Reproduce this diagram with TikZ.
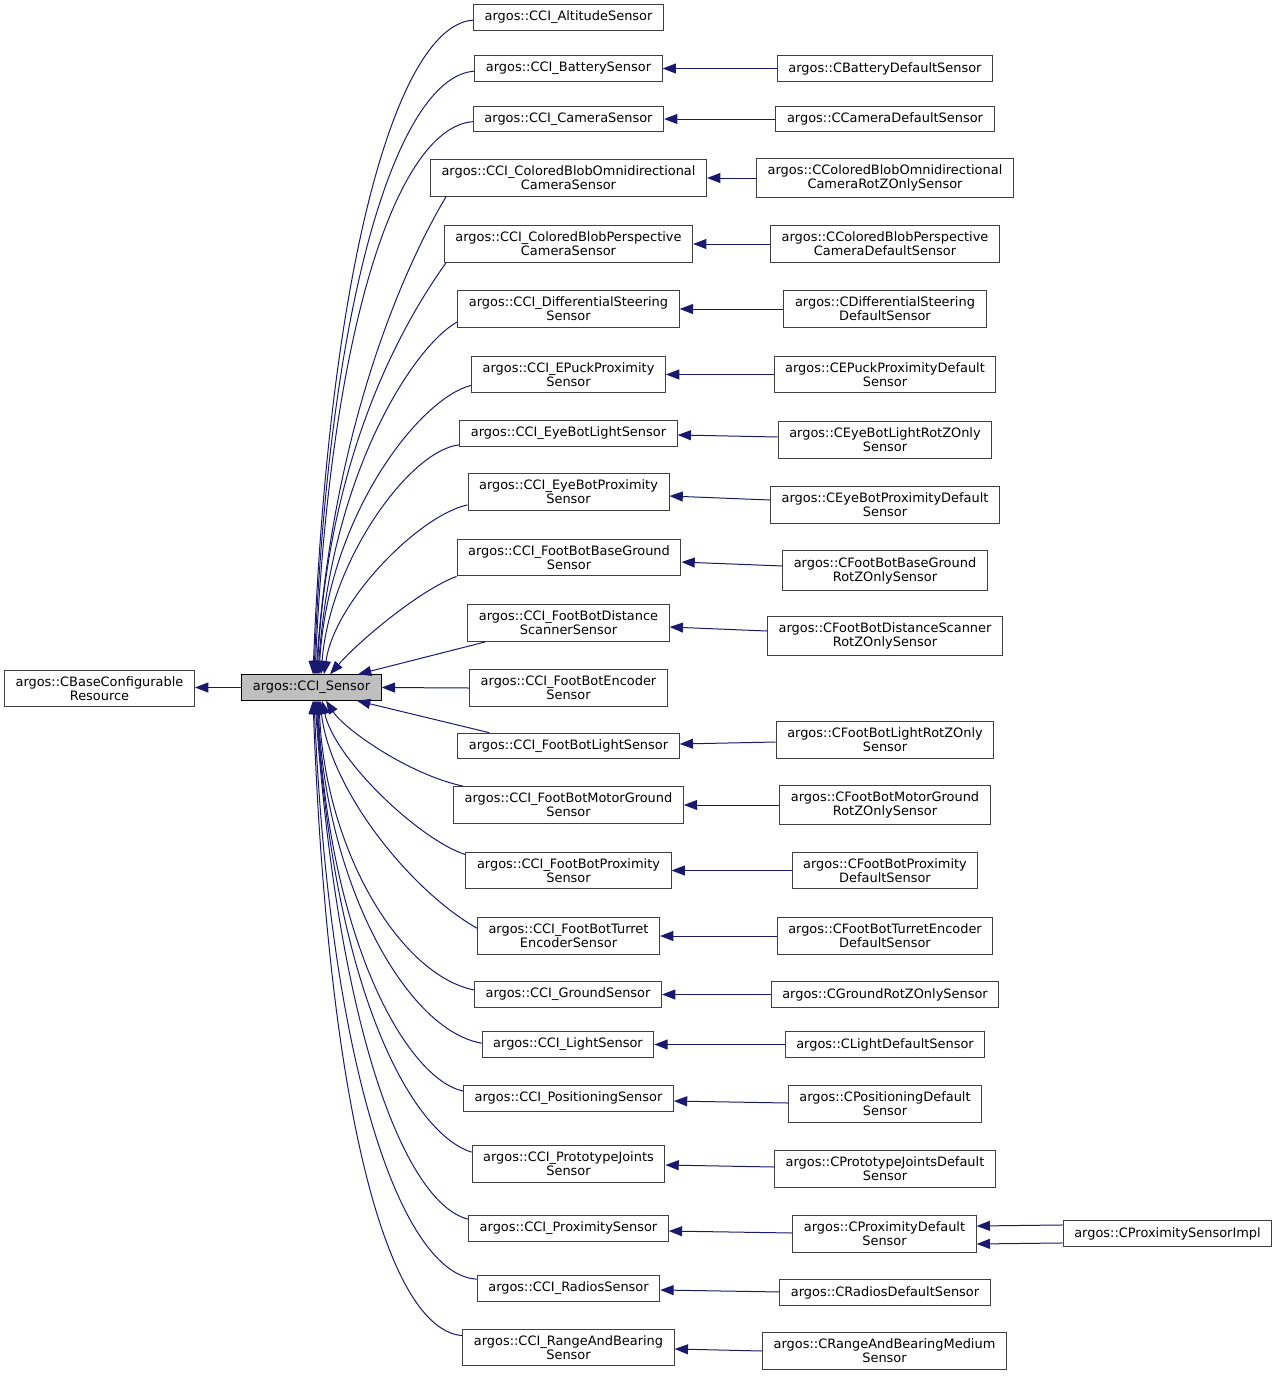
\documentclass[tikz,border=0pt]{standalone}
\usepackage{fontspec}
\setmainfont{DejaVu Sans}
\usetikzlibrary{arrows.meta}
\definecolor{edgeblue}{HTML}{191970}
\definecolor{boxgray}{HTML}{BFBFBF}
\definecolor{linegray}{HTML}{404040}

\begin{document}
\begin{tikzpicture}[x=0.75pt, y=-0.75pt,
  cls/.style={draw=linegray, fill=white, line width=0.75pt, align=center,
    inner xsep=8.3pt, inner ysep=4.8pt, minimum height=18.75pt,
    font=\fontsize{9.7}{10.5}\selectfont},
  inh/.style={draw=edgeblue, line width=0.75pt, -{Triangle[length=10pt, width=7.5pt]}}]
  \useasboundingbox (0, 0) rectangle (1279, 1378);

  \node (base) at (99.5, 688.5)[cls]{argos::CBaseConfigurable\\Resource};
  \node (sensor) at (311.5, 687.5)[cls, draw=black, fill=boxgray]{argos::CCI\_Sensor};

  \node (m1) at (568.5, 17.5)[cls]{argos::CCI\_AltitudeSensor};
  \node (m2) at (568.5, 68.5)[cls]{argos::CCI\_BatterySensor};
  \node (m3) at (568.5, 119)[cls]{argos::CCI\_CameraSensor};
  \node (m4) at (568.5, 178)[cls]{argos::CCI\_ColoredBlobOmnidirectional\\CameraSensor};
  \node (m5) at (568.5, 244)[cls]{argos::CCI\_ColoredBlobPerspective\\CameraSensor};
  \node (m6) at (568.5, 309)[cls]{argos::CCI\_DifferentialSteering\\Sensor};
  \node (m7) at (568.5, 374.5)[cls]{argos::CCI\_EPuckProximity\\Sensor};
  \node (m8) at (568.5, 433.5)[cls]{argos::CCI\_EyeBotLightSensor};
  \node (m9) at (568.5, 492)[cls]{argos::CCI\_EyeBotProximity\\Sensor};
  \node (m10) at (569, 557.5)[cls]{argos::CCI\_FootBotBaseGround\\Sensor};
  \node (m11) at (568.5, 623)[cls]{argos::CCI\_FootBotDistance\\ScannerSensor};
  \node (m12) at (568.5, 688)[cls]{argos::CCI\_FootBotEncoder\\Sensor};
  \node (m13) at (568.5, 746)[cls]{argos::CCI\_FootBotLightSensor};
  \node (m14) at (568.5, 805)[cls]{argos::CCI\_FootBotMotorGround\\Sensor};
  \node (m15) at (568.5, 870.5)[cls]{argos::CCI\_FootBotProximity\\Sensor};
  \node (m16) at (568.5, 936)[cls]{argos::CCI\_FootBotTurret\\EncoderSensor};
  \node (m17) at (568, 994.5)[cls]{argos::CCI\_GroundSensor};
  \node (m18) at (568, 1044.5)[cls]{argos::CCI\_LightSensor};
  \node (m19) at (568.5, 1098.5)[cls]{argos::CCI\_PositioningSensor};
  \node (m20) at (568.5, 1164)[cls]{argos::CCI\_PrototypeJoints\\Sensor};
  \node (m21) at (568.5, 1228.5)[cls]{argos::CCI\_ProximitySensor};
  \node (m22) at (568.5, 1288.5)[cls]{argos::CCI\_RadiosSensor};
  \node (m23) at (568.5, 1347.5)[cls]{argos::CCI\_RangeAndBearing\\Sensor};

  \node (r2) at (885, 68.5)[cls]{argos::CBatteryDefaultSensor};
  \node (r3) at (885, 119)[cls]{argos::CCameraDefaultSensor};
  \node (r4) at (885, 178)[cls]{argos::CColoredBlobOmnidirectional\\CameraRotZOnlySensor};
  \node (r5) at (885, 244)[cls]{argos::CColoredBlobPerspective\\CameraDefaultSensor};
  \node (r6) at (885, 309)[cls]{argos::CDifferentialSteering\\DefaultSensor};
  \node (r7) at (885, 374.5)[cls]{argos::CEPuckProximityDefault\\Sensor};
  \node (r8) at (885, 440)[cls]{argos::CEyeBotLightRotZOnly\\Sensor};
  \node (r9) at (885, 505)[cls]{argos::CEyeBotProximityDefault\\Sensor};
  \node (r10) at (885, 570.5)[cls]{argos::CFootBotBaseGround\\RotZOnlySensor};
  \node (r11) at (885, 636)[cls]{argos::CFootBotDistanceScanner\\RotZOnlySensor};
  \node (r13) at (885, 740)[cls]{argos::CFootBotLightRotZOnly\\Sensor};
  \node (r14) at (885, 805)[cls]{argos::CFootBotMotorGround\\RotZOnlySensor};
  \node (r15) at (885, 870.5)[cls]{argos::CFootBotProximity\\DefaultSensor};
  \node (r16) at (885, 936)[cls]{argos::CFootBotTurretEncoder\\DefaultSensor};
  \node (r17) at (885, 994.5)[cls]{argos::CGroundRotZOnlySensor};
  \node (r18) at (885, 1044.5)[cls]{argos::CLightDefaultSensor};
  \node (r19) at (885, 1104)[cls]{argos::CPositioningDefault\\Sensor};
  \node (r20) at (885, 1169)[cls]{argos::CPrototypeJointsDefault\\Sensor};
  \node (r21) at (884.5, 1234)[cls]{argos::CProximityDefault\\Sensor};
  \node (r22) at (885, 1292.5)[cls]{argos::CRadiosDefaultSensor};
  \node (r23) at (884.5, 1351)[cls]{argos::CRangeAndBearingMedium\\Sensor};

  \node (impl) at (1167.5, 1233.5)[cls]{argos::CProximitySensorImpl};

  \draw[inh] (sensor.west) -- (base.east |- sensor.west);

  % upper interfaces
  \draw[inh] ([yshift=-2pt]m1.west) .. controls (400, 25) and (330, 250) .. (313, 0 |- sensor.north);
  \draw[inh] ([yshift=-2pt]m2.west) .. controls (401, 76) and (330, 282) .. (314, 0 |- sensor.north);
  \draw[inh] ([yshift=-2pt]m3.west) .. controls (400, 127) and (331, 316) .. (315, 0 |- sensor.north);
  \draw[inh] ([xshift=12pt]m4.south west) .. controls (420, 240) and (335, 400) .. (316, 0 |- sensor.north);
  \draw[inh] ([xshift=1.5pt]m5.south west) .. controls (420, 300) and (330, 430) .. (317, 0 |- sensor.north);
  \draw[inh] ([yshift=4.5pt]m6.south west) .. controls (415, 345) and (332, 470) .. (318, 0 |- sensor.north);
  \draw[inh] ([yshift=6pt]m7.south west) .. controls (420, 398) and (328, 515) .. (319, 0 |- sensor.north);
  \draw[inh] ([yshift=1.5pt]m8.south west) .. controls (410, 450) and (330, 560) .. (321, 0 |- sensor.north);
  \draw[inh] ([yshift=4.5pt]m9.south west) .. controls (420, 515) and (335, 600) .. (324, 0 |- sensor.north);
  \draw[inh] (m10.south west) .. controls (420, 590) and (360, 640) .. (330, 0 |- sensor.north);
  \draw[inh] ([xshift=13.5pt]m11.south west) -- (358, 0 |- sensor.north);
  \draw[inh] (m12.west) -- (sensor.east);
  % lower interfaces
  \draw[inh] ([xshift=24pt]m13.north west) -- (357, 0 |- sensor.south);
  \draw[inh] ([xshift=7.5pt]m14.north west) .. controls (410, 775) and (345, 730) .. (326, 0 |- sensor.south);
  \draw[inh] ([yshift=-2.25pt]m15.north west) .. controls (420, 840) and (335, 760) .. (322, 0 |- sensor.south);
  \draw[inh] ([yshift=-8.25pt]m16.north west) .. controls (410, 890) and (330, 790) .. (320, 0 |- sensor.south);
  \draw[inh] ([yshift=3.4pt]m17.west) .. controls (400, 975) and (325, 850) .. (319, 0 |- sensor.south);
  \draw[inh] ([yshift=1pt]m18.west) .. controls (405, 1030) and (325, 880) .. (318, 0 |- sensor.south);
  \draw[inh] ([yshift=5.6pt]m19.west) .. controls (410, 1080) and (330, 950) .. (317, 0 |- sensor.south);
  \draw[inh] ([yshift=-5.25pt]m20.north west) .. controls (415, 1135) and (335, 1000) .. (316, 0 |- sensor.south);
  \draw[inh] ([yshift=-3pt]m21.north west) .. controls (410, 1205) and (340, 1050) .. (315, 0 |- sensor.south);
  \draw[inh] ([yshift=-3pt]m22.north west) .. controls (402, 1275) and (330, 1070) .. (314, 0 |- sensor.south);
  \draw[inh] ([yshift=-5.25pt]m23.north west) .. controls (390, 1330) and (329, 1125) .. (313, 0 |- sensor.south);

  \foreach \i/\a/\b in {2/0/0, 3/0/0, 4/0/0, 5/0/0, 6/0/0, 7/0/0, 8/2.25/-1.1, 9/3.75/-3,
      10/3.4/-3.4, 11/3.75/-3, 13/-1.5/1.5, 14/0/0, 15/0/0, 16/0/0, 17/0/0, 18/0/0,
      19/0.75/-1.9, 20/1.5/-0.75, 21/0.75/-1.9, 22/0.4/-1.1, 23/0/-1.1}
    \draw[inh] ([yshift=\a pt]r\i.west) -- ([yshift=\b pt]m\i.east);

  \draw[inh] ([yshift=6.4pt]impl.west) -- ([yshift=6pt]r21.east);
  \draw[inh] ([yshift=-7.1pt]impl.west) -- ([yshift=-7.5pt]r21.east);
\end{tikzpicture}
\end{document}
